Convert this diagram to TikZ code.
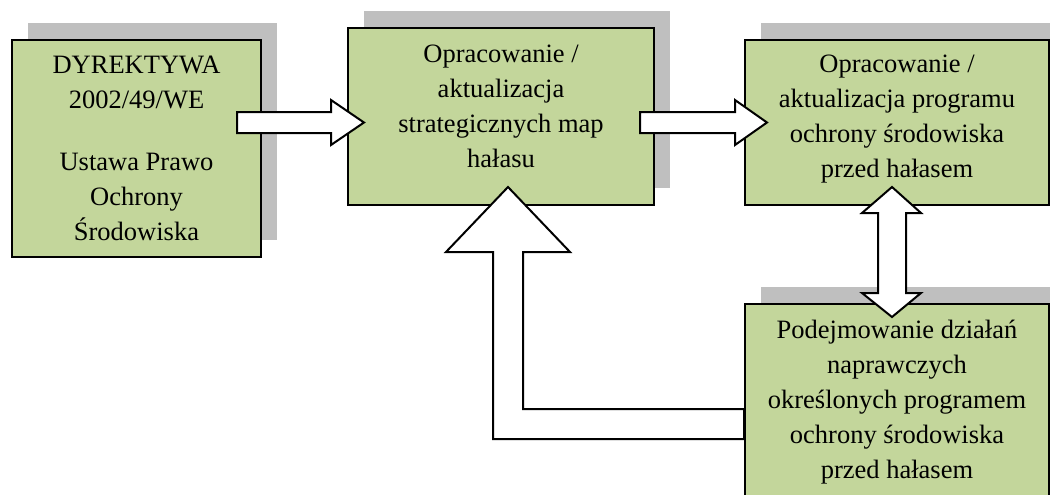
\documentclass[tikz,border=0pt]{standalone}
\usepackage{fontspec}
\setmainfont{Liberation Serif}
\usetikzlibrary{shadows}
\definecolor{boxgreen}{HTML}{C3D69B}
\definecolor{shadowgray}{HTML}{BFBFBF}
\tikzset{
  box/.style={draw=black, line width=2pt, fill=boxgreen, anchor=north west, inner sep=0pt,
    general shadow={fill=shadowgray, shadow xshift=16pt, shadow yshift=17pt}},
  txt/.style={anchor=base, inner sep=0pt, font=\fontsize{26.5}{35}\selectfont},
  blockarrow/.style={draw=black, line width=2pt, fill=white, line join=miter}
}
\newcommand{\boxtext}[2]{\parbox[t]{#1}{\centering #2}}
\begin{document}
\begin{tikzpicture}[x=1pt, y=-1pt]
\path[use as bounding box, clip] (0,0) rectangle (1050,495);
% boxes
\node[box, minimum width=249pt, minimum height=217pt] (b1) at (11,39) {};
\node[box, minimum width=306pt, minimum height=177pt] (b2) at (347,27) {};
\node[box, minimum width=304pt, minimum height=165pt] (b3) at (744,39) {};
\node[box, minimum width=304pt, minimum height=200pt] (b4) at (744,303) {};
% texts
\node[txt] (t1) at ([yshift=-35pt]b1.north) {\boxtext{240pt}{DYREKTYWA\\2002/49/WE\\[27pt]Ustawa Prawo\\Ochrony\\Środowiska}};
\node[txt] (t2) at ([yshift=-36pt]b2.north) {\boxtext{296pt}{Opracowanie /\\aktualizacja\\strategicznych map\\hałasu}};
\node[txt] (t3) at ([yshift=-34pt]b3.north) {\boxtext{296pt}{Opracowanie /\\aktualizacja programu\\ochrony środowiska\\przed hałasem}};
\node[txt] (t4) at ([yshift=-35pt]b4.north) {\boxtext{296pt}{Podejmowanie działań\\naprawczych\\określonych programem\\ochrony środowiska\\przed hałasem}};
% block arrows
\draw[blockarrow] (237,112) -- (331,112) -- (331,100) -- (364,122.5) -- (331,145) -- (331,133) -- (237,133) -- cycle;
\draw[blockarrow] (640,112) -- (735,112) -- (735,100) -- (767,122.5) -- (735,145) -- (735,133) -- (640,133) -- cycle;
\draw[blockarrow] (892,187) -- (921,213) -- (906,213) -- (906,293) -- (921,293) -- (892,317) -- (862,293) -- (878,293) -- (878,213) -- (862,213) -- cycle;
\draw[blockarrow] (508,187) -- (570,252) -- (523,252) -- (523,409) -- (b4.west |- 0,409) -- (b4.west |- 0,439) -- (493,439) -- (493,252) -- (446,252) -- cycle;
\end{tikzpicture}
\end{document}
